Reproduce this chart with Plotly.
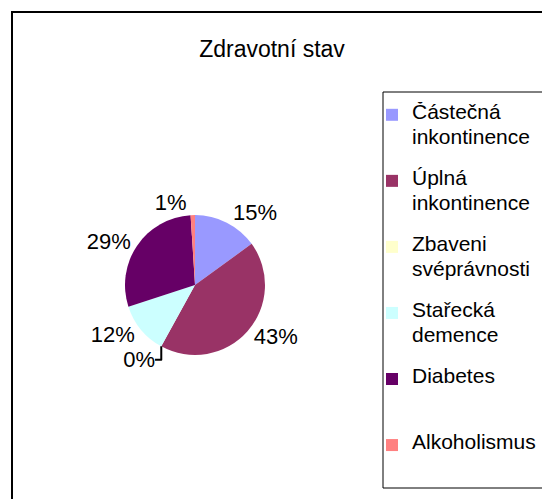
import plotly.graph_objects as go

# Data
categories = ["Částečná inkontinence", "Úplná inkontinence", "Zbaveni svéprávnosti",
              "Stařecká demence", "Diabetes", "Alkoholismus"]
legend_lines = [["Částečná", "inkontinence"], ["Úplná", "inkontinence"],
                ["Zbaveni", "svéprávnosti"], ["Stařecká", "demence"],
                ["Diabetes"], ["Alkoholismus"]]
values = [15, 43, 0, 12, 29, 1]
colors = ["#9999FF", "#993366", "#FFFFCC", "#CCFFFF", "#660066", "#FF8080"]

W, H = 542, 499
FONT = "Liberation Sans, Arial, sans-serif"
BIG = 21      # visible legend text size
SMALL = 9.7   # base legend font -> controls line pitch


def legend_label(lines):
    parts = []
    for i in range(2):
        if i < len(lines):
            parts.append(f"<span style='font-size:{BIG}px'>{lines[i]}</span>")
        else:
            parts.append("")
    # line, blank, line, blank, blank
    return parts[0] + "<br><br>" + parts[1] + "<br><br> "


labels = [legend_label(l) for l in legend_lines]

# pie geometry in px
cx, cy, r = 195, 285, 70

fig = go.Figure(go.Pie(
    labels=labels,
    values=values,
    sort=False,
    direction="clockwise",
    rotation=0,
    marker=dict(colors=colors, line=dict(width=0)),
    textinfo="percent",
    texttemplate="%{percent:.0%}",
    textposition="outside",
    textfont=dict(family=FONT, size=22, color="black"),
    domain=dict(x=[(cx - r) / W, (cx + r) / W], y=[1 - (cy + r) / H, 1 - (cy - r) / H]),
    hoverinfo="skip",
    showlegend=True,
))

shapes = [
    # outer chart border
    dict(type="rect", xref="paper", yref="paper", x0=12 / W, x1=1.2, y0=-0.2, y1=1 - 12 / H,
         line=dict(color="black", width=2), fillcolor="rgba(0,0,0,0)", layer="above"),
    # legend box border
    dict(type="rect", xref="paper", yref="paper", x0=383 / W, x1=1.2, y0=1 - 488 / H, y1=1 - 92 / H,
         line=dict(color="black", width=1), fillcolor="rgba(0,0,0,0)", layer="above"),
]

fig.update_layout(
    width=W, height=H,
    margin=dict(l=0, r=0, t=0, b=0, autoexpand=False),
    paper_bgcolor="white",
    plot_bgcolor="white",
    font=dict(family=FONT, color="black"),
    title=dict(text="Zdravotní stav", x=272 / W, xref="container", xanchor="center",
               y=1 - 49 / H, yref="container", yanchor="middle",
               font=dict(family=FONT, size=23, color="black")),
    legend=dict(x=372 / W, y=1 - 102 / H, xref="container", yref="container",
                xanchor="left", yanchor="top", maxheight=480,
                bgcolor="rgba(0,0,0,0)", borderwidth=0, valign="top",
                font=dict(family=FONT, size=SMALL, color="black")),
    shapes=shapes,
)

fig.write_html(
    "out.html",
    config={"displayModeBar": False},
    post_script="document.body.style.margin='0';document.body.style.overflow='hidden';",
)
